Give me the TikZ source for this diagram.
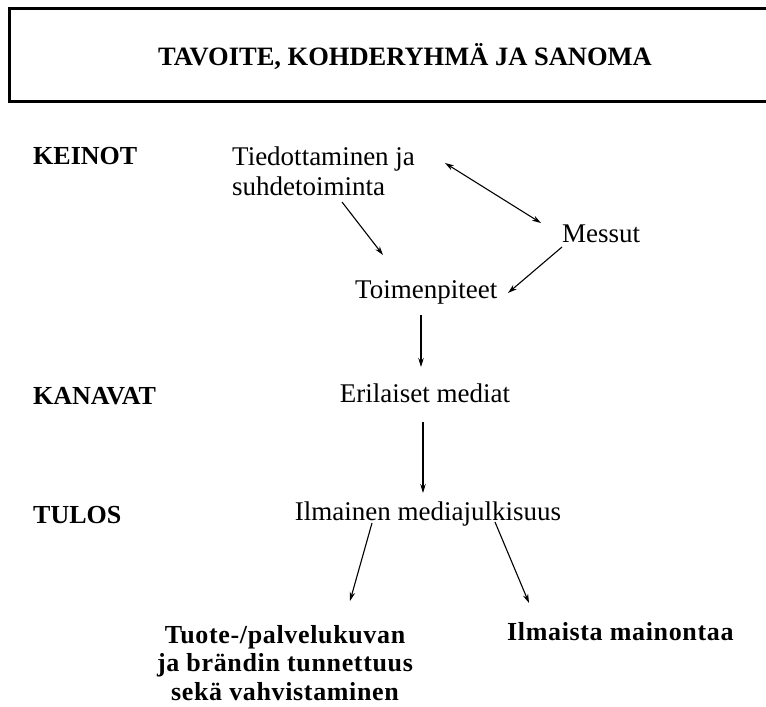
\documentclass[tikz,border=0pt]{standalone}
\usepackage{fontspec}
\setmainfont{Liberation Serif}
\newfontfamily\spacedbold[LetterSpace=2.5]{Liberation Serif}
\usetikzlibrary{arrows.meta}
\tikzset{
  txt/.style={inner sep=0pt, font=\fontsize{27}{30}\selectfont},
  lbl/.style={inner sep=0pt, font=\fontsize{26}{30}\selectfont\bfseries},
  res/.style={inner sep=0pt, font=\fontsize{26}{28.5}\selectfont\spacedbold\bfseries},
  arr/.style={line width=1.1pt, -{Stealth[length=9pt,width=5.5pt]}},
  darr/.style={line width=1.1pt, {Stealth[length=9pt,width=5.5pt]}-{Stealth[length=9pt,width=5.5pt]}},
  frame/.style={line width=3pt}
}
\begin{document}
\begin{tikzpicture}[x=1pt,y=-1pt]
\useasboundingbox (0,0) rectangle (766,707);
\clip (0,0) rectangle (766,707);
\fill[white] (0,0) rectangle (766,707);
% header box
\draw[frame] (9.5,8.5) rectangle (800,101.5);
\node[lbl, anchor=base, font=\fontsize{26.5}{30}\selectfont\bfseries] (title) at (405,65) {TAVOITE, KOHDERYHMÄ JA SANOMA};
% row labels
\node[lbl, anchor=base west] (keinot) at (33,164) {KEINOT};
\node[lbl, anchor=base west] (kanavat) at (33,404) {KANAVAT};
\node[lbl, anchor=base west] (tulos) at (33,523) {TULOS};
% text nodes
\node[txt, anchor=north west, align=left] (tied) at (232,147) {Tiedottaminen ja\\suhdetoiminta};
\node[txt, anchor=base west] (messut) at (562,242) {Messut};
\node[txt, anchor=base west] (toim) at (355,298) {Toimenpiteet};
\node[txt, anchor=base] (eril) at (425,402) {Erilaiset mediat};
\node[txt, anchor=base] (ilm) at (428,520) {Ilmainen mediajulkisuus};
\node[res, anchor=north, align=center] (tuote) at (285,625) {Tuote-/palvelukuvan\\ja brändin tunnettuus\\sekä vahvistaminen};
\node[res, anchor=base west] (ilmaista) at (507,640) {Ilmaista mainontaa};
% connector end points
\coordinate (a1s) at (342,202);
\coordinate (a1e) at (383,255);
\coordinate (a2s) at (445,163);
\coordinate (a2e) at (541,223);
\coordinate (a3s) at (562,247);
\coordinate (a3e) at (508,293);
\coordinate (a4s) at (421,315);
\coordinate (a4e) at (421,367);
\coordinate (a5s) at (423,422);
\coordinate (a5e) at (423,493);
\coordinate (a6s) at (372,523);
\coordinate (a6e) at (350,601);
\coordinate (a7s) at (495,522);
\coordinate (a7e) at (529,603);
% connectors
\draw[arr] (a1s) -- (a1e);
\draw[darr] (a2s) -- (a2e);
\draw[arr] (a3s) -- (a3e);
\draw[arr] (a4s) -- (a4e);
\draw[arr] (a5s) -- (a5e);
\draw[arr] (a6s) -- (a6e);
\draw[arr] (a7s) -- (a7e);
\end{tikzpicture}
\end{document}
